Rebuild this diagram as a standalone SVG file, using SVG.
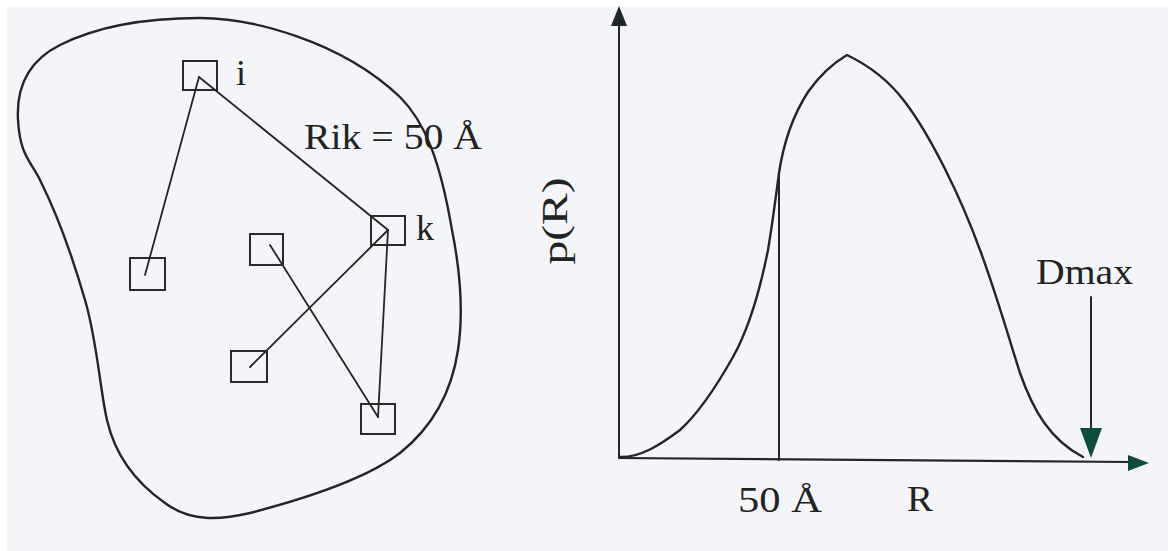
<svg xmlns="http://www.w3.org/2000/svg" width="1168" height="551" viewBox="0 0 1168 551">
  <style>
    .ink { fill: none; stroke: #252525; stroke-linecap: round; stroke-linejoin: round; }
    .thick { stroke-width: 2.4; }
    .thin { stroke-width: 1.8; }
    .box { fill: none; stroke: #2a2a2a; stroke-width: 2; }
    .lbl { font-family: "Liberation Serif", "Times New Roman", serif; font-size: 36px; fill: #222; }
  </style>
  <rect x="0" y="0" width="1168" height="551" fill="#ffffff"/>
  <rect x="7" y="7" width="1161" height="544" fill="#f3f5f9"/>

  <!-- left panel: particle outline -->
  <g id="particle">
    <path class="ink thick" d="M200,18 C250,18 340,40 400,97 C425,122 440,160 452,230 C460,270 464,310 458,350 C452,390 435,425 400,453 C365,480 300,500 250,513 C220,520 190,522 165,503 C135,482 115,455 107,420 C100,390 97,340 85,300 C72,255 55,210 40,180 C30,160 20,155 18,120 C16,85 30,60 60,45 C100,25 150,18 200,18 Z"/>
  </g>

  <g id="connectors">
    <line class="ink thin" x1="199" y1="77" x2="145" y2="275"/>
    <line class="ink thin" x1="199" y1="77" x2="388" y2="230"/>
    <line class="ink thin" x1="388" y1="230" x2="250" y2="367"/>
    <line class="ink thin" x1="388" y1="230" x2="378" y2="417"/>
    <line class="ink thin" x1="270" y1="245" x2="378" y2="417"/>
  </g>

  <g id="node-i">
    <rect class="box" x="183" y="61" width="34" height="29"/>
    <text class="lbl" x="236" y="85">i</text>
  </g>
  <g id="node-k">
    <rect class="box" x="371" y="216" width="34" height="29"/>
    <text class="lbl" x="416" y="240">k</text>
  </g>
  <g id="node-a">
    <rect class="box" x="250" y="234" width="33" height="31"/>
  </g>
  <g id="node-b">
    <rect class="box" x="130" y="258" width="35" height="32"/>
  </g>
  <g id="node-c">
    <rect class="box" x="231" y="351" width="36" height="31"/>
  </g>
  <g id="node-d">
    <rect class="box" x="361" y="404" width="34" height="30"/>
  </g>

  <g id="label-rik">
    <text class="lbl" x="304" y="149" textLength="178" lengthAdjust="spacingAndGlyphs">Rik = 50 Å</text>
  </g>

  <!-- right panel: p(R) plot -->
  <g id="axes">
    <line class="ink" stroke-width="2" x1="619" y1="457" x2="619" y2="24"/>
    <path d="M619,6 L627,26 L611,26 Z" fill="#1e2826"/>
    <line class="ink" stroke-width="2.2" x1="619" y1="458" x2="1130" y2="462"/>
    <path d="M1149,463 L1128,455 L1128,471 Z" fill="#114a3f"/>
  </g>

  <g id="curve">
    <path class="ink thick" d="M619,457 C640,458 660,445 680,430 C700,412 720,380 733,357 C748,330 760,290 768,250 C773,220 776,195 779,173 C784,140 795,112 808,92 C820,75 835,62 847,55 C870,66 890,82 905,102 C930,135 960,195 980,250 C995,290 1008,335 1020,373 C1033,410 1050,440 1083,457"/>
    <line class="ink" stroke-width="2" x1="779" y1="173" x2="779" y2="460"/>
  </g>

  <g id="dmax-arrow">
    <line class="ink" stroke-width="2" x1="1091" y1="297" x2="1091" y2="430"/>
    <path d="M1080,428 L1102,428 L1091,458 Z" fill="#114a3f"/>
  </g>

  <g id="labels">
    <text class="lbl" transform="rotate(-90 567 221)" x="567" y="221" text-anchor="middle" textLength="87" lengthAdjust="spacingAndGlyphs">p(R)</text>
    <text class="lbl" x="738" y="512" textLength="84" lengthAdjust="spacingAndGlyphs">50 Å</text>
    <text class="lbl" x="907" y="511" textLength="26" lengthAdjust="spacingAndGlyphs">R</text>
    <text class="lbl" x="1036" y="284" textLength="97" lengthAdjust="spacingAndGlyphs">Dmax</text>
  </g>
</svg>
